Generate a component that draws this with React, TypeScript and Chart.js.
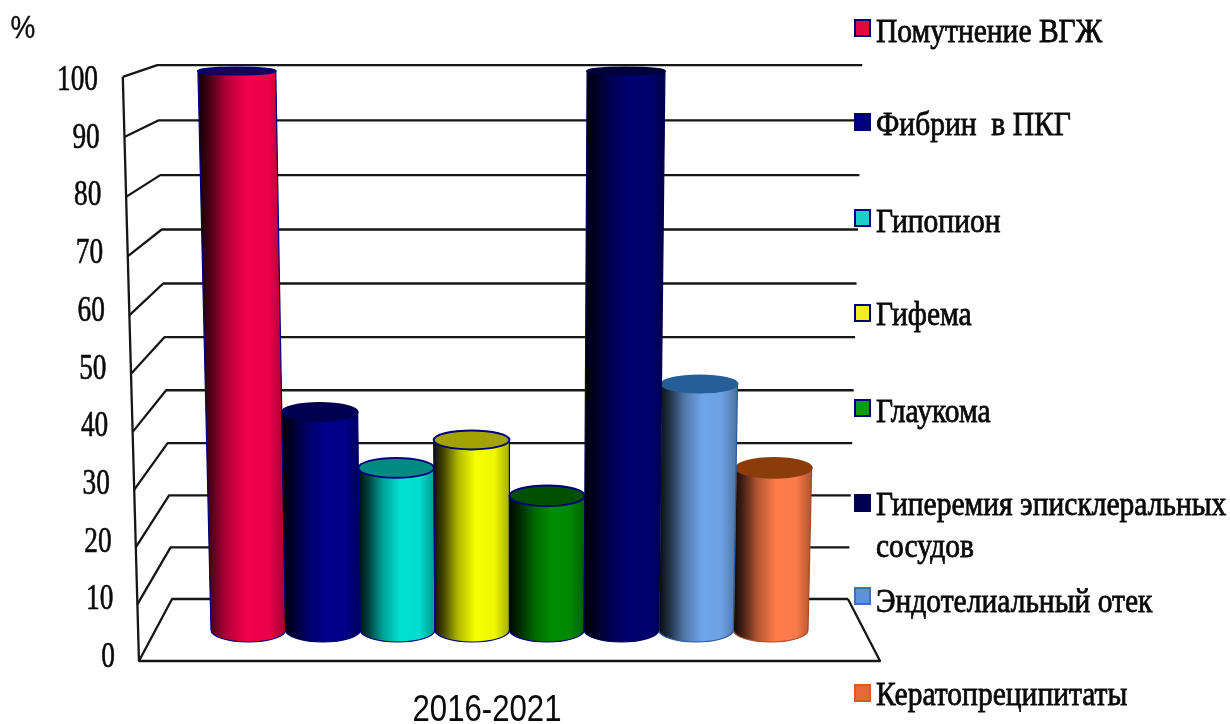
import { useEffect, useRef } from "react";
import { Chart, registerables } from "chart.js";

Chart.register(...registerables);

// Chart content
const periodLabel = "2016-2021";
const unitLabel = "%";
const seriesNames = [
  "Помутнение ВГЖ",
  "Фибрин  в ПКГ",
  "Гипопион",
  "Гифема",
  "Глаукома",
  "Гиперемия эписклеральных\nсосудов",
  "Эндотелиальный отек",
  "Кератопреципитаты",
];
const seriesValues = [100, 39, 29, 34, 24, 100, 44, 29];
const yTickValues = [100, 90, 80, 70, 60, 50, 40, 30, 20, 10, 0];

// Series colours
const sideColors = ["#f2004c", "#00008c", "#00e0d2", "#f4ff00", "#008c00", "#000070", "#6ea4e8", "#ff7c4a"];
const capColors = ["#200050", "#000050", "#008a84", "#a3a300", "#005000", "#00003c", "#265e99", "#8a3c0a"];
const capRimColors = ["#00007a", "#000050", "#00007a", "#00007a", "#00007a", "#00003c", "#265e99", "#8a3c0a"];
const edgeColors = ["#00007a", "#000060", "#00007a", "#00007a", "#00007a", "#000050", "#2a5a9a", "#a84a20"];
const swatchEdgeColors = ["#00007a", "#000060", "#00007a", "#00007a", "#00007a", "#000050", "#3e72b8", "#d85a2a"];
const swatchColors = ["#e0083f", "#000080", "#1ccfc8", "#f0ee20", "#0a9a14", "#000050", "#5c93d8", "#e8683c"];

// Legend rows: text baselines and swatch centres, in canvas pixels
const legendBaselines = [42, 135, 232, 325, 422, 515, 612, 705];
const swatchCentres = [28, 122, 218, 313, 408, 503, 596, 693];

// Painting order keeps the front-most cylinders on top
const paintOrder = [0, 1, 2, 3, 4, 7, 6, 5];

const LINE = "#161616";
const VANISH_X = 515;

type Ctx = CanvasRenderingContext2D;

function shade(hex: string, k: number) {
  const n = parseInt(hex.slice(1), 16);
  const r = Math.round(((n >> 16) & 255) * k);
  const g = Math.round(((n >> 8) & 255) * k);
  const b = Math.round((n & 255) * k);
  return `rgb(${r},${g},${b})`;
}

function squeezedText(
  ctx: Ctx, text: string, x: number, y: number, font: string, sx: number,
  align: CanvasTextAlign = "left", baseline: CanvasTextBaseline = "alphabetic", bold = 0.5,
) {
  ctx.save();
  ctx.font = font;
  ctx.textAlign = align;
  ctx.textBaseline = baseline;
  ctx.fillStyle = "#0a0a0a";
  ctx.strokeStyle = "#0a0a0a";
  ctx.lineWidth = bold;
  ctx.translate(x, y);
  ctx.scale(sx, 1);
  ctx.fillText(text, 0, 0);
  if (bold > 0) ctx.strokeText(text, 0, 0);
  ctx.restore();
}

// Pseudo-3D chart box and cylinders, all placed from the chart's own scales
const cylinderScene = {
  id: "cylinderScene",
  beforeDatasetsDraw(chart: any) {
    const ctx: Ctx = chart.ctx;
    const yScale = chart.scales.y;
    const { left, right } = chart.chartArea;
    const bottom = yScale.bottom;
    const top = yScale.top;

    const heightRatio = (p: number) => (bottom - p) / (bottom - top);
    // depth: +1 is the front edge of the box, -1 the back wall, 0 the plane of the bars
    const projX = (x: number, p: number, depth = 0) =>
      VANISH_X + (x - VANISH_X) * (1 + 0.046 * depth) * (1 + 0.043 * heightRatio(p));
    const wallY = (p: number, depth: number) => {
      const t = heightRatio(p);
      return bottom + depth * 31 + (p - bottom) * (1 + 0.045 * depth) + 20 * t * (1 - t);
    };

    const wallLeft = left - 55.5;
    const wallRight = right + 56;

    // Gridlines and walls
    ctx.save();
    ctx.strokeStyle = LINE;
    ctx.lineWidth = 2.3;
    ctx.lineJoin = "round";
    for (const v of yTickValues) {
      const p = yScale.getPixelForValue(v);
      ctx.beginPath();
      ctx.moveTo(projX(wallLeft, p, 1), wallY(p, 1));
      ctx.lineTo(projX(wallLeft, p, -1), wallY(p, -1));
      ctx.lineTo(projX(wallRight, p, -1), wallY(p, -1));
      ctx.stroke();
    }
    const p0 = yScale.getPixelForValue(0);
    const p100 = yScale.getPixelForValue(100);
    ctx.beginPath();
    ctx.moveTo(projX(wallLeft, p100, 1), wallY(p100, 1));
    ctx.lineTo(projX(wallLeft, p0, 1), wallY(p0, 1));
    ctx.lineTo(projX(wallRight, p0, 1), wallY(p0, 1));
    ctx.lineTo(projX(wallRight, p0, -1), wallY(p0, -1));
    ctx.stroke();
    ctx.restore();

    // Cylinders
    for (const i of paintOrder) {
      const bar = chart.getDatasetMeta(i).data[0];
      const { x, y, base, width } = bar.getProps(["x", "y", "base", "width"], true);
      const value = seriesValues[i];
      const half = width / 2;
      const lt = projX(x - half, y);
      const rt = projX(x + half, y);
      const lb = projX(x - half, base);
      const rb = projX(x + half, base);
      const ryTop = 12.5 - 0.09 * value;
      const ryBase = 12;

      const grad = ctx.createLinearGradient(Math.min(lt, lb), 0, Math.max(rt, rb), 0);
      const c = sideColors[i];
      grad.addColorStop(0, shade(c, 0.06));
      grad.addColorStop(0.14, shade(c, 0.3));
      grad.addColorStop(0.32, shade(c, 0.72));
      grad.addColorStop(0.55, shade(c, 1));
      grad.addColorStop(0.8, shade(c, 0.98));
      grad.addColorStop(1, shade(c, 0.68));

      ctx.save();
      ctx.beginPath();
      ctx.moveTo(lt, y);
      ctx.lineTo(lb, base);
      ctx.ellipse((lb + rb) / 2, base, (rb - lb) / 2, ryBase, 0, Math.PI, 0, true);
      ctx.lineTo(rt, y);
      ctx.closePath();
      ctx.fillStyle = grad;
      ctx.fill();
      ctx.strokeStyle = edgeColors[i];
      ctx.lineWidth = 1.2;
      ctx.stroke();

      ctx.beginPath();
      ctx.ellipse((lt + rt) / 2, y, (rt - lt) / 2, ryTop, 0, 0, Math.PI * 2);
      ctx.fillStyle = capColors[i];
      ctx.fill();
      ctx.strokeStyle = capRimColors[i];
      ctx.lineWidth = 2;
      ctx.stroke();
      ctx.restore();
    }

    // Value axis labels follow the slanted front edge
    for (const v of yTickValues) {
      squeezedText(ctx, String(v), 115 - 0.17 * v, 667 - 5.77 * v, "35px 'Liberation Serif'", 0.78, "right", "alphabetic", 0.6);
    }
    squeezedText(ctx, unitLabel, 23, 38, "31px 'Liberation Sans'", 0.9, "center", "alphabetic", 0.3);
    squeezedText(ctx, periodLabel, 487, 721, "36px 'Liberation Sans'", 0.866, "center", "alphabetic", 0);

    // Legend
    seriesNames.forEach((name, i) => {
      const cy = swatchCentres[i];
      ctx.fillStyle = swatchColors[i];
      ctx.fillRect(855, cy - 8, 15, 16);
      ctx.strokeStyle = swatchEdgeColors[i];
      ctx.lineWidth = 2;
      ctx.strokeRect(855, cy - 8, 15, 16);
      name.split("\n").forEach((line, k) => {
        squeezedText(ctx, line, 876, legendBaselines[i] + k * 42, "33px 'Liberation Serif'", 0.895, "left", "alphabetic", 0.8);
      });
    });

    return false;
  },
};

export default function App() {
  const canvasRef = useRef<HTMLCanvasElement>(null);

  useEffect(() => {
    const chart = new Chart(canvasRef.current as HTMLCanvasElement, {
      type: "bar",
      data: {
        labels: [periodLabel],
        datasets: seriesNames.map((name, i) => ({
          label: name,
          data: [seriesValues[i]],
          backgroundColor: sideColors[i],
        })),
      },
      options: {
        responsive: false,
        animation: false,
        layout: { padding: { left: 211, right: 422, top: 71, bottom: 94 } },
        datasets: { bar: { categoryPercentage: 1, barPercentage: 1 } },
        plugins: { legend: { display: false }, title: { display: false }, tooltip: { enabled: false } },
        scales: {
          x: { display: false },
          y: { display: false, min: 0, max: 100, ticks: { stepSize: 10 } },
        },
      },
      plugins: [cylinderScene],
    } as any);
    return () => chart.destroy();
  }, []);

  return (
    <canvas
      ref={canvasRef}
      width={1230}
      height={724}
      style={{ position: "fixed", left: 0, top: 0, width: 1230, height: 724, background: "#ffffff" }}
    />
  );
}
